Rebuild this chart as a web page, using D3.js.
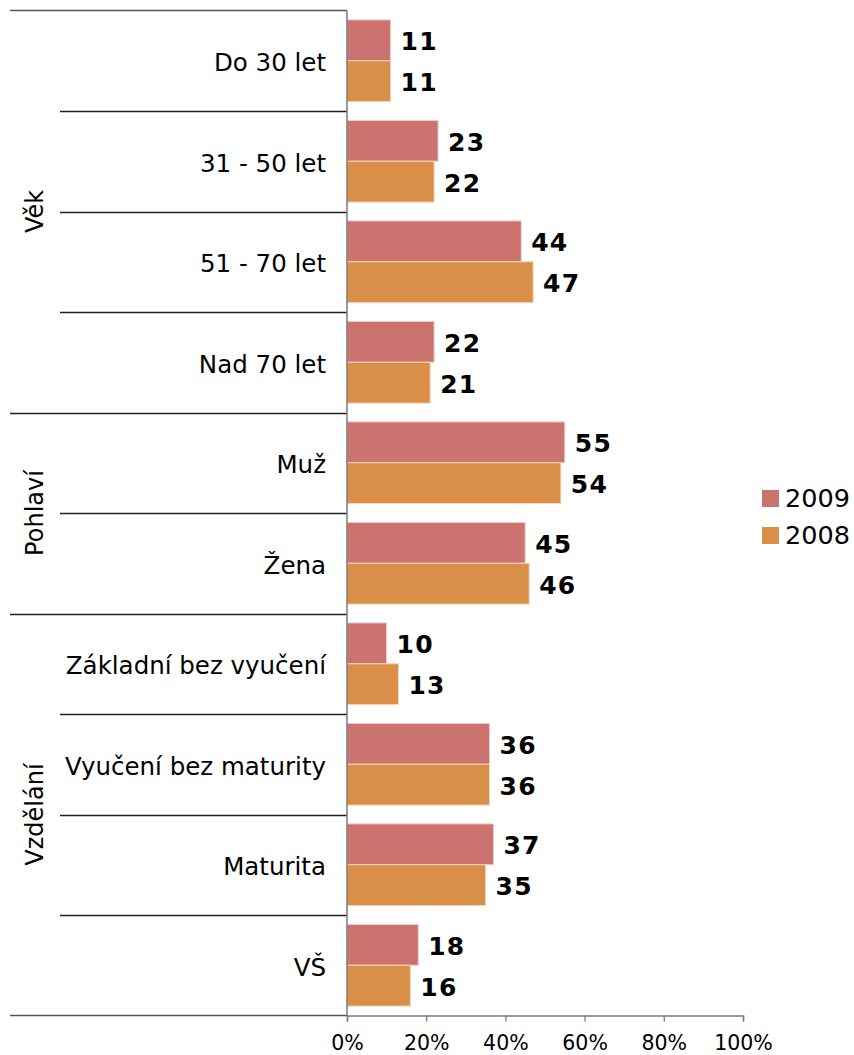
<!DOCTYPE html>
<html>
<head>
<meta charset="utf-8">
<script src="https://cdn.jsdelivr.net/npm/d3@7/dist/d3.min.js"></script>
<style>
  html, body { margin: 0; padding: 0; background: #fff; }
  svg { display: block; font-family: "DejaVu Sans", Verdana, sans-serif; }
</style>
</head>
<body>
<svg id="chart" width="854" height="1055"></svg>
<script>
const categories = ["Do 30 let", "31 - 50 let", "51 - 70 let", "Nad 70 let", "Muž", "Žena",
  "Základní bez vyučení", "Vyučení bez maturity", "Maturita", "VŠ"];
const values2009 = [11, 23, 44, 22, 55, 45, 10, 36, 37, 18];
const values2008 = [11, 22, 47, 21, 54, 46, 13, 36, 35, 16];
const seriesNames = ["2009", "2008"];
const seriesColors = ["#CC7370", "#D98F48"];
const seriesStroke = ["#EFCFCD", "#F3D6B8"];
const groups = [
  { name: "Věk", start: 0, count: 4 },
  { name: "Pohlaví", start: 4, count: 2 },
  { name: "Vzdělání", start: 6, count: 4 }
];
const xTicks = [0, 20, 40, 60, 80, 100];

const svg = d3.select("#chart");
const axisX = 347, plotRight = 743, plotTop = 10.5, plotBottom = 1015.5;

const x = d3.scaleLinear().domain([0, 100]).range([axisX, plotRight]);
const y = d3.scaleBand().domain(categories).range([plotTop, plotBottom]).padding(0);
const ySeries = d3.scaleBand().domain(seriesNames).range([0, y.bandwidth()])
  .paddingInner(0).paddingOuter(0.23);

const data = categories.map((c, i) => ({ cat: c, vals: [values2009[i], values2008[i]] }));

// bars
const rows = svg.append("g").selectAll("g").data(data).join("g")
  .attr("transform", d => `translate(0,${y(d.cat)})`);
seriesNames.forEach((s, si) => {
  rows.append("rect")
    .attr("x", x(0))
    .attr("y", ySeries(s))
    .attr("width", d => x(d.vals[si]) - x(0))
    .attr("height", ySeries.bandwidth())
    .attr("fill", seriesColors[si])
    .attr("stroke", seriesStroke[si])
    .attr("stroke-width", 1);
  rows.append("text")
    .attr("x", d => x(d.vals[si]) + 10)
    .attr("y", ySeries(s) + ySeries.bandwidth() / 2)
    .attr("dy", "0.4em")
    .attr("font-size", 25)
    .attr("font-weight", "bold")
    .attr("letter-spacing", 1.2)
    .attr("fill", "#000")
    .text(d => d.vals[si]);
});

// category labels
svg.append("g").selectAll("text").data(categories).join("text")
  .attr("x", axisX - 21)
  .attr("y", d => y(d) + y.bandwidth() / 2)
  .attr("dy", "0.42em")
  .attr("text-anchor", "end")
  .attr("font-size", 24.5)
  .attr("fill", "#000")
  .text(d => d);

// separator lines
const sepG = svg.append("g");
const groupStarts = new Set(groups.map(g => g.start));
categories.forEach((c, i) => {
  if (i === 0) return;
  const yy = Math.round(y(c)) + 0.5;
  const isGroup = groupStarts.has(i);
  sepG.append("line")
    .attr("x1", isGroup ? 10 : 60).attr("x2", axisX)
    .attr("y1", yy).attr("y2", yy)
    .attr("stroke", "#222").attr("stroke-width", 1.3);
});
sepG.append("line").attr("x1", 10).attr("x2", axisX)
  .attr("y1", plotTop).attr("y2", plotTop).attr("stroke", "#555").attr("stroke-width", 1.3);
sepG.append("line").attr("x1", 10).attr("x2", axisX)
  .attr("y1", plotBottom).attr("y2", plotBottom).attr("stroke", "#555").attr("stroke-width", 1.3);

// group labels
svg.append("g").selectAll("text").data(groups).join("text")
  .attr("transform", d => {
    const y0 = y(categories[d.start]);
    const y1 = y(categories[d.start + d.count - 1]) + y.bandwidth();
    return `translate(43,${(y0 + y1) / 2}) rotate(-90)`;
  })
  .attr("text-anchor", "middle")
  .attr("font-size", 24)
  .attr("fill", "#000")
  .text(d => d.name);

// y axis line
svg.append("line").attr("x1", axisX).attr("x2", axisX)
  .attr("y1", plotTop).attr("y2", plotBottom)
  .attr("stroke", "#7a7a7a").attr("stroke-width", 1.5);

// x axis
const xAxis = d3.axisBottom(x).tickValues(xTicks).tickFormat(d => d + "%")
  .tickSize(6).tickPadding(14);
const gx = svg.append("g").attr("transform", `translate(0,${plotBottom})`).call(xAxis);
gx.select(".domain").attr("stroke", "#7a7a7a").attr("stroke-width", 1.5);
gx.selectAll(".tick line").attr("stroke", "#7a7a7a").attr("stroke-width", 1.3);
gx.selectAll(".tick text").attr("font-size", 20.5).attr("fill", "#000")
  .attr("font-family", "DejaVu Sans, Verdana, sans-serif");

// legend
const legend = svg.append("g");
seriesNames.forEach((s, i) => {
  const ly = 490 + i * 37;
  legend.append("rect").attr("x", 762).attr("y", ly).attr("width", 17).attr("height", 17)
    .attr("fill", seriesColors[i]);
  legend.append("text").attr("x", 785).attr("y", ly + 17)
    .attr("font-size", 25.5).attr("fill", "#000").text(s);
});
</script>
</body>
</html>
